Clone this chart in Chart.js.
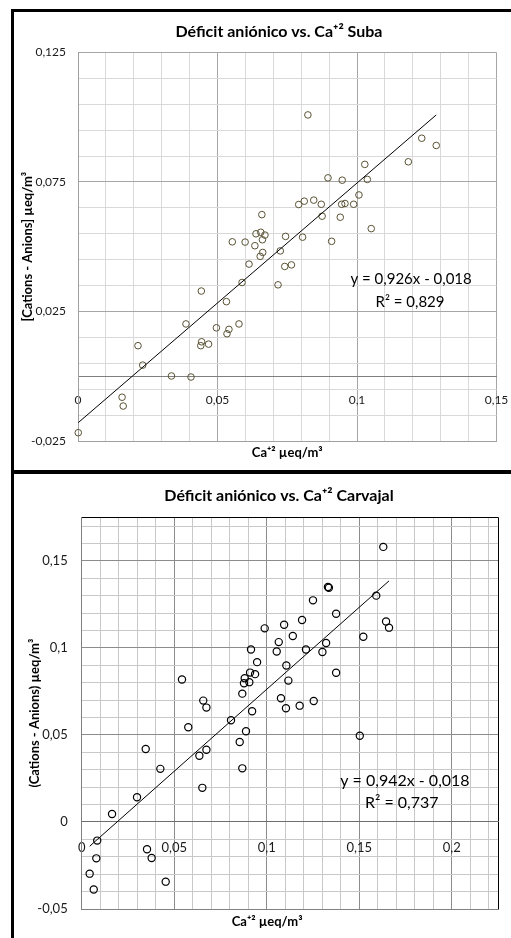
<!DOCTYPE html>
<html>
<head>
<meta charset="utf-8">
<script src="https://cdn.jsdelivr.net/npm/chart.js@4.4.1/dist/chart.umd.min.js"></script>
<style>
  html, body { margin: 0; padding: 0; background: #fff; }
  #page { position: relative; width: 511px; height: 938px; overflow: hidden; }
  .rule { position: absolute; background: #000; }
  canvas { position: absolute; left: 0; }
</style>
</head>
<body>
<div id="page">
  <div class="rule" style="left:11px;top:9px;width:3px;height:929px"></div>
  <div class="rule" style="left:11px;top:9px;width:500px;height:3px"></div>
  <div class="rule" style="left:11px;top:470px;width:500px;height:4px"></div>
  <canvas id="chartSuba" width="544" height="469" style="top:0"></canvas>
  <canvas id="chartCarvajal" width="544" height="464" style="top:474px"></canvas>
</div>
<script>
// ---- Suba: Ca+2 (x) vs anion deficit (y) ----
const subaCa = [0.0824, 0.1232, 0.1284, 0.1184, 0.1028, 0.1037, 0.0896, 0.0947, 0.1007, 0.0845,
  0.0811, 0.0791, 0.0872, 0.0945, 0.0957, 0.0988, 0.0875, 0.094, 0.1051, 0.0659,
  0.0638, 0.0655, 0.067, 0.0661, 0.0634, 0.0553, 0.0599, 0.0744, 0.0805, 0.0909,
  0.0662, 0.0653, 0.0725, 0.0613, 0.0741, 0.0765, 0.0588, 0.0717, 0.0442, 0.0532,
  0.0387, 0.0496, 0.0577, 0.0541, 0.0534, 0.0443, 0.044, 0.0468, 0.0215, 0.0232,
  0.0335, 0.0405, 0.0158, 0.0162, 0.0001];
const subaDeficit = [0.1009, 0.0919, 0.0891, 0.0828, 0.0818, 0.076, 0.0766, 0.0757, 0.07, 0.068,
  0.0676, 0.0663, 0.0664, 0.0664, 0.0667, 0.0664, 0.0618, 0.0614, 0.057, 0.0624,
  0.055, 0.0556, 0.0545, 0.0527, 0.0504, 0.0519, 0.0518, 0.054, 0.0537, 0.0521,
  0.0478, 0.0463, 0.0484, 0.0433, 0.0424, 0.043, 0.0362, 0.0353, 0.0329, 0.0288,
  0.0202, 0.0187, 0.0202, 0.0181, 0.0164, 0.0133, 0.0118, 0.0124, 0.0118, 0.0043,
  0.0001, -0.0003, -0.0081, -0.0115, -0.0218];
const subaSlope = 0.926;
const subaIntercept = -0.018;
const subaR2 = 0.829;
const subaXGrid = [0, 0.01, 0.02, 0.03, 0.04, 0.05, 0.06, 0.07, 0.08, 0.09, 0.1, 0.11, 0.12, 0.13, 0.14, 0.15];
const subaXLabels = [0, 0.05, 0.1, 0.15];
const subaYGrid = [-0.025, -0.015, -0.005, 0.005, 0.015, 0.025, 0.035, 0.045, 0.055, 0.065, 0.075, 0.085, 0.095, 0.105, 0.115, 0.125];
const subaYLabels = [-0.025, 0.025, 0.075, 0.125];

// ---- Carvajal ----
const carvajalCa = [0.163, 0.1331, 0.1336, 0.1592, 0.125, 0.1375, 0.1191, 0.1094, 0.0989, 0.1645,
  0.1661, 0.1522, 0.1141, 0.1065, 0.1321, 0.1054, 0.1212, 0.1301, 0.0915, 0.0948,
  0.1106, 0.091, 0.0937, 0.1375, 0.0881, 0.0877, 0.0906, 0.0542, 0.1117, 0.0868,
  0.0657, 0.0674, 0.1077, 0.1104, 0.1178, 0.1254, 0.0921, 0.0807, 0.0576, 0.0888,
  0.1503, 0.0854, 0.0346, 0.0674, 0.0636, 0.0425, 0.0868, 0.0652, 0.0299, 0.0164,
  0.0084, 0.0079, 0.0043, 0.0065, 0.0353, 0.0378, 0.0454];
const carvajalDeficit = [0.158, 0.135, 0.1345, 0.13, 0.1273, 0.1196, 0.116, 0.1133, 0.1112, 0.1152,
  0.1116, 0.1064, 0.1068, 0.1033, 0.1028, 0.0979, 0.0991, 0.0976, 0.0991, 0.0918,
  0.0899, 0.0858, 0.0849, 0.0857, 0.0826, 0.0797, 0.0803, 0.0818, 0.0812, 0.0737,
  0.0697, 0.0657, 0.0711, 0.0653, 0.0668, 0.0695, 0.0636, 0.0584, 0.0544, 0.0521,
  0.0495, 0.0459, 0.0419, 0.0415, 0.038, 0.0305, 0.0308, 0.0196, 0.0142, 0.0046,
  -0.0107, -0.0209, -0.0297, -0.0388, -0.0157, -0.0207, -0.0343];
const carvajalSlope = 0.942;
const carvajalIntercept = -0.018;
const carvajalR2 = 0.737;
const carvajalXGrid = [0, 0.01, 0.02, 0.03, 0.04, 0.05, 0.06, 0.07, 0.08, 0.09, 0.1, 0.11, 0.12, 0.13, 0.14, 0.15, 0.16, 0.17, 0.18, 0.19, 0.2, 0.21, 0.22, 0.225];
const carvajalXLabels = [0, 0.05, 0.1, 0.15, 0.2];
const carvajalYGrid = [-0.05, -0.04, -0.03, -0.02, -0.01, 0, 0.01, 0.02, 0.03, 0.04, 0.05, 0.06, 0.07, 0.08, 0.09, 0.1, 0.11, 0.12, 0.13, 0.14, 0.15, 0.16, 0.17, 0.175];
const carvajalYLabels = [-0.05, 0, 0.05, 0.1, 0.15];

Chart.defaults.font.family = 'Lato, "Open Sans", sans-serif';
const CANVAS_W = 544;

// excel style decimal comma
function fmt(v) {
    return String(v).replace('.', ',');
}

function near(list, v) {
    return list.some(a => Math.abs(a - v) < 1e-9);
}

// trendline equation text, drawn in data coordinates
const eqLabelPlugin = {
    id: 'eqLabel',
    afterDraw(chart, args, opts) {
        const ctx = chart.ctx;
        ctx.save();
        ctx.font = opts.font;
        ctx.fillStyle = '#000';
        ctx.textAlign = 'center';
        ctx.textBaseline = 'middle';
        for (let i = 0; i < opts.lines.length; i++) {
            ctx.fillText(opts.lines[i],
                chart.scales.x.getPixelForValue(opts.atX[i]),
                chart.scales.y.getPixelForValue(opts.atY[i]));
        }
        ctx.restore();
    }
};

/**
 * Scatter of one station with its linear trendline, Excel look
 */
function SetupScatter(canvasId, o) {
    const xMin = Math.min(...o.x), xMax = Math.max(...o.x);
    const points = o.x.map((v, i) => ({ x: v, y: o.y[i] }));
    const trend = [xMin, xMax].map(v => ({ x: v, y: o.slope * v + o.intercept }));
    const lastX = o.xGrid[o.xGrid.length - 1];
    const lastY = o.yGrid[o.yGrid.length - 1];

    const gridColor = (labels, edge) => ctx => {
        const v = ctx.tick ? ctx.tick.value : null;
        if (v === null) return o.minorColor;
        if (Math.abs(v - edge) < 1e-9) return o.edgeColor;
        return near(labels, v) ? o.majorColor : o.minorColor;
    };
    const eqText = 'y = ' + fmt(o.slope) + 'x ' + (o.intercept < 0 ? '- ' : '+ ') + fmt(Math.abs(o.intercept));

    return new Chart(document.getElementById(canvasId), {
        type: 'scatter',
        data: {
            datasets: [{
                data: points,
                showLine: false,
                pointRadius: o.markerRadius,
                pointBorderWidth: o.markerWidth,
                pointBorderColor: o.markerColor,
                pointBackgroundColor: 'rgba(0,0,0,0)',
                clip: false,
                order: 2
            }, {
                data: trend,
                showLine: true,
                pointRadius: 0,
                borderColor: '#000',
                borderWidth: 1,
                fill: false,
                order: 1
            }]
        },
        plugins: [eqLabelPlugin],
        options: {
            responsive: false,
            animation: false,
            events: [],
            layout: { padding: { left: 14, right: 0, top: 0, bottom: 0 } },
            plugins: {
                legend: { display: false },
                tooltip: { enabled: false },
                title: {
                    display: true,
                    text: o.title,
                    color: '#000',
                    font: { size: 16, weight: 'bold' },
                    padding: { top: o.titleTop, bottom: o.titleBottom }
                },
                eqLabel: {
                    font: o.eqFont,
                    lines: [eqText, 'R² = ' + fmt(o.r2)],
                    atX: o.eqX,
                    atY: o.eqY
                }
            },
            scales: {
                x: {
                    type: 'linear',
                    position: 'bottom',
                    min: o.xGrid[0],
                    max: lastX,
                    afterBuildTicks: s => { s.ticks = o.xGrid.map(v => ({ value: v })); },
                    afterFit: s => { s.height = o.bottomHeight; },
                    ticks: { display: false, autoSkip: false },
                    grid: { color: gridColor(o.xLabels, lastX), drawTicks: false },
                    border: { color: o.axisColor },
                    title: {
                        display: true,
                        text: o.xTitle,
                        color: '#000',
                        font: { size: 13, weight: 'bold' },
                        padding: { top: 0, bottom: o.xTitlePad }
                    }
                },
                // horizontal axis crossing at y = 0, carries the x labels
                xZero: {
                    type: 'linear',
                    position: { y: 0 },
                    min: o.xGrid[0],
                    max: lastX,
                    afterBuildTicks: s => { s.ticks = o.xLabels.map(v => ({ value: v })); },
                    ticks: {
                        autoSkip: false,
                        maxRotation: 0,
                        padding: o.xLabelPad,
                        color: '#1a1a1a',
                        font: { size: o.tickSize },
                        callback: v => fmt(v)
                    },
                    grid: { display: false, drawTicks: false },
                    border: { color: o.zeroColor }
                },
                y: {
                    type: 'linear',
                    position: 'left',
                    min: o.yGrid[0],
                    max: lastY,
                    afterBuildTicks: s => { s.ticks = o.yGrid.map(v => ({ value: v })); },
                    afterFit: s => { s.width = o.yWidth; },
                    ticks: {
                        autoSkip: false,
                        padding: o.yLabelPad,
                        color: '#1a1a1a',
                        font: { size: o.tickSize },
                        callback: v => near(o.yLabels, v) ? fmt(v) : ''
                    },
                    grid: { color: gridColor(o.yLabels, lastY), drawTicks: false },
                    border: { color: o.axisColor },
                    title: {
                        display: true,
                        text: o.yTitle,
                        color: '#000',
                        font: { size: 13, weight: 'bold' },
                        padding: { top: o.yTitlePad, bottom: 0 }
                    }
                },
                // empty right margin so the title centres like the excel chart object
                yPad: {
                    type: 'linear',
                    position: 'right',
                    ticks: { display: false },
                    grid: { display: false },
                    border: { display: false },
                    afterFit: s => { s.width = CANVAS_W - o.plotRight; }
                }
            }
        }
    });
}

SetupScatter('chartSuba', {
    x: subaCa, y: subaDeficit,
    slope: subaSlope, intercept: subaIntercept, r2: subaR2,
    xGrid: subaXGrid, xLabels: subaXLabels, yGrid: subaYGrid, yLabels: subaYLabels,
    title: 'Déficit aniónico vs. Ca⁺² Suba',
    xTitle: 'Ca⁺² µeq/m³',
    yTitle: '[Cations - Anions] µeq/m³',
    titleTop: 22.4, titleBottom: 10.9,
    plotRight: 496.5, bottomHeight: 28, xTitlePad: 8.2,
    yWidth: 64, yLabelPad: 12, yTitlePad: 6.2, xLabelPad: 16.3,
    tickSize: 12,
    minorColor: '#d9d9d9', majorColor: '#a6a6a6', edgeColor: '#a6a6a6',
    axisColor: '#a0a0a0', zeroColor: '#7f7f7f',
    markerColor: '#595133', markerRadius: 3.3, markerWidth: 1,
    eqFont: '15px Lato, "Open Sans", sans-serif',
    eqX: [0.1194, 0.119], eqY: [0.0373, 0.0285]
});

SetupScatter('chartCarvajal', {
    x: carvajalCa, y: carvajalDeficit,
    slope: carvajalSlope, intercept: carvajalIntercept, r2: carvajalR2,
    xGrid: carvajalXGrid, xLabels: carvajalXLabels, yGrid: carvajalYGrid, yLabels: carvajalYLabels,
    title: 'Déficit aniónico vs. Ca⁺² Carvajal',
    xTitle: 'Ca⁺² µeq/m³' + '\u2002'.repeat(7),
    yTitle: '(Cations - Anions) µeq/m³',
    titleTop: 12.4, titleBottom: 11.7,
    plotRight: 498, bottomHeight: 29, xTitlePad: 8.2,
    yWidth: 67.7, yLabelPad: 14, yTitlePad: 13.2, xLabelPad: 18.2,
    tickSize: 13,
    minorColor: '#c8c8c8', majorColor: '#8c8c8c', edgeColor: '#000',
    axisColor: '#808080', zeroColor: '#6e6e6e',
    markerColor: '#000', markerRadius: 3.6, markerWidth: 1.2,
    eqFont: '16px Lato, "Open Sans", sans-serif',
    eqX: [0.1747, 0.173], eqY: [0.0236, 0.0108]
});
</script>
</body>
</html>
